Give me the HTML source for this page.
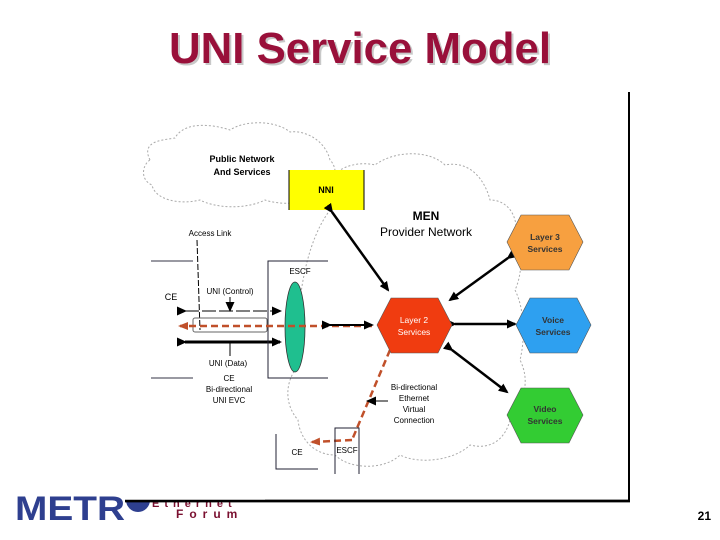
<!DOCTYPE html>
<html><head><meta charset="utf-8"><style>
html,body{margin:0;padding:0;background:#fff;}
svg{display:block;font-family:"Liberation Sans",sans-serif;}
</style></head><body>
<svg width="720" height="540" viewBox="0 0 720 540" xmlns="http://www.w3.org/2000/svg">
<defs>
<marker id="ab" markerWidth="10" markerHeight="9" refX="8" refY="4.5" orient="auto" markerUnits="userSpaceOnUse"><path d="M0,0 L10,4.5 L0,9 z" fill="#000"/></marker>
<marker id="ar" markerWidth="10" markerHeight="8" refX="8" refY="4" orient="auto" markerUnits="userSpaceOnUse"><path d="M0,0 L10,4 L0,8 z" fill="#c0502a"/></marker>
</defs>
<!-- title -->
<text x="362" y="65" text-anchor="middle" font-size="44" font-weight="bold" fill="#c8c8c8" textLength="382" lengthAdjust="spacingAndGlyphs">UNI Service Model</text>
<text x="360" y="63" text-anchor="middle" font-size="44" font-weight="bold" fill="#99103a" textLength="382" lengthAdjust="spacingAndGlyphs">UNI Service Model</text>
<!-- frame -->
<line x1="629" y1="92" x2="629" y2="501" stroke="#000" stroke-width="2"/>
<!-- public cloud -->
<path d="M150,160 C140,140 165,140 175,138 C185,120 215,125 230,130 C245,120 275,120 290,132 C305,130 325,140 330,160 C340,170 335,190 320,195 C305,205 280,205 265,200 C245,210 215,208 200,200 C180,205 155,200 152,185 C140,180 142,165 150,160 Z" fill="none" stroke="#aaa" stroke-dasharray="2,2"/>
<!-- MEN cloud -->
<path d="M330,185 C330,170 355,160 375,165 C395,150 430,150 445,165 C470,160 485,180 490,200 C510,200 520,220 515,240 C525,255 520,280 515,290 C525,310 525,340 520,360 C530,380 525,400 510,420 C505,440 490,450 470,445 C455,460 420,465 400,455 C385,470 350,470 335,455 C315,455 300,440 298,420 C285,405 285,385 295,370 L300,300 C305,260 315,230 330,210 Z" fill="none" stroke="#aaa" stroke-dasharray="2,2"/>
<text x="242" y="162" text-anchor="middle" font-size="9" font-weight="bold">Public Network</text>
<text x="242" y="175" text-anchor="middle" font-size="9" font-weight="bold">And Services</text>
<!-- NNI -->
<rect x="289" y="170" width="75" height="40" fill="#ffff00"/>
<line x1="289" y1="170" x2="289" y2="210" stroke="#000"/>
<line x1="364" y1="170" x2="364" y2="210" stroke="#000"/>
<text x="326" y="193" text-anchor="middle" font-size="9" font-weight="bold">NNI</text>
<text x="426" y="220" text-anchor="middle" font-size="12" font-weight="bold">MEN</text>
<text x="426" y="236" text-anchor="middle" font-size="12">Provider Network</text>
<!-- access link etc -->
<text x="210" y="236" text-anchor="middle" font-size="8">Access Link</text>
<line x1="197" y1="240" x2="200" y2="330" stroke="#000" stroke-dasharray="6,2"/>
<line x1="151" y1="261" x2="193" y2="261" stroke="#334"/>
<line x1="151" y1="378" x2="193" y2="378" stroke="#334"/>
<text x="171" y="300" text-anchor="middle" font-size="9">CE</text>
<text x="230" y="294" text-anchor="middle" font-size="8">UNI (Control)</text>
<line x1="230" y1="297" x2="230" y2="310" stroke="#000" marker-end="url(#ab)"/>
<line x1="185" y1="311" x2="280" y2="311" stroke="#000" stroke-dasharray="14,3" marker-end="url(#ab)" marker-start="url(#ab)"/>
<rect x="193" y="318" width="74" height="14" fill="none" stroke="#666" stroke-width="1" rx="2"/>
<line x1="185" y1="342" x2="280" y2="342" stroke="#000" stroke-width="3" marker-end="url(#ab)" marker-start="url(#ab)"/>
<line x1="230" y1="343" x2="230" y2="356" stroke="#000"/>
<text x="228" y="366" text-anchor="middle" font-size="8">UNI (Data)</text>
<text x="229" y="381" text-anchor="middle" font-size="8">CE</text>
<text x="229" y="392" text-anchor="middle" font-size="8">Bi-directional</text>
<text x="229" y="403" text-anchor="middle" font-size="8">UNI EVC</text>
<!-- ESCF box -->
<path d="M328,261 L268,261 L268,378 L328,378" fill="none" stroke="#223"/>
<text x="300" y="274" text-anchor="middle" font-size="8">ESCF</text>
<ellipse cx="295" cy="327" rx="10" ry="45" fill="#1fbf8f" stroke="#333" stroke-width="0.8"/>
<!-- red dashed EVC -->
<line x1="372" y1="326" x2="180" y2="326" stroke="#c0502a" stroke-width="2.5" stroke-dasharray="7,4" marker-end="url(#ar)"/>
<line x1="330" y1="325" x2="372" y2="325" stroke="#000" stroke-width="2" marker-end="url(#ab)" marker-start="url(#ab)"/>
<line x1="390" y1="350" x2="352" y2="440" stroke="#c0502a" stroke-width="2.5" stroke-dasharray="7,4"/>
<line x1="352" y1="440" x2="312" y2="442" stroke="#c0502a" stroke-width="2.5" stroke-dasharray="7,4" marker-end="url(#ar)"/>
<text x="414" y="390" text-anchor="middle" font-size="8">Bi-directional</text>
<text x="414" y="401" text-anchor="middle" font-size="8">Ethernet</text>
<text x="414" y="412" text-anchor="middle" font-size="8">Virtual</text>
<text x="414" y="423" text-anchor="middle" font-size="8">Connection</text>
<line x1="388" y1="401" x2="368" y2="401" stroke="#000" marker-end="url(#ab)"/>
<!-- bottom CE/ESCF -->
<path d="M276,434 L276,469 L318,469" fill="none" stroke="#223"/>
<text x="297" y="455" text-anchor="middle" font-size="8">CE</text>
<path d="M335,474 L335,428 L359,428 L359,474" fill="none" stroke="#223"/>
<text x="347" y="453" text-anchor="middle" font-size="8">ESCF</text>
<!-- arrows -->
<line x1="332" y1="212" x2="388" y2="290" stroke="#000" stroke-width="2.5" marker-end="url(#ab)" marker-start="url(#ab)"/>
<line x1="508" y1="258" x2="450" y2="300" stroke="#000" stroke-width="2.5" marker-end="url(#ab)" marker-start="url(#ab)"/>
<line x1="455" y1="324" x2="515" y2="324" stroke="#000" stroke-width="2.5" marker-end="url(#ab)" marker-start="url(#ab)"/>
<line x1="452" y1="350" x2="507" y2="392" stroke="#000" stroke-width="2.5" marker-end="url(#ab)" marker-start="url(#ab)"/>
<!-- hexagons -->
<polygon points="507,242 521,215 569,215 583,242 569,270 521,270" fill="#f7a040" stroke="#555" stroke-width="0.6"/>
<text x="545" y="240" text-anchor="middle" font-size="8.5" font-weight="bold" fill="#333">Layer 3</text>
<text x="545" y="252" text-anchor="middle" font-size="8.5" font-weight="bold" fill="#333">Services</text>
<polygon points="377,325 391,298 438,298 452,325 438,353 391,353" fill="#f03c10" stroke="#555" stroke-width="0.6"/>
<text x="414" y="323" text-anchor="middle" font-size="8.5" fill="#fff">Layer 2</text>
<text x="414" y="335" text-anchor="middle" font-size="8.5" fill="#fff">Services</text>
<polygon points="516,325 530,298 577,298 591,325 577,353 530,353" fill="#2ea0f0" stroke="#555" stroke-width="0.6"/>
<text x="553" y="323" text-anchor="middle" font-size="8.5" font-weight="bold" fill="#333">Voice</text>
<text x="553" y="335" text-anchor="middle" font-size="8.5" font-weight="bold" fill="#333">Services</text>
<polygon points="507,415 521,388 569,388 583,415 569,443 521,443" fill="#33cc33" stroke="#555" stroke-width="0.6"/>
<text x="545" y="412" text-anchor="middle" font-size="8.5" font-weight="bold" fill="#333">Video</text>
<text x="545" y="424" text-anchor="middle" font-size="8.5" font-weight="bold" fill="#333">Services</text>
<!-- logo -->
<text x="15" y="520" font-size="34" font-weight="bold" fill="#2e3f8f" textLength="110" lengthAdjust="spacingAndGlyphs">METR</text>
<path d="M126,500 A12,12 0 0 0 150,500 Z" fill="#2e3f8f"/>
<text x="152" y="507" font-size="11" font-weight="bold" fill="#7a1030" letter-spacing="5">Ethernet</text>
<line x1="125" y1="501" x2="630" y2="501" stroke="#000" stroke-width="2.5"/>
<rect x="125" y="490" width="140" height="10" fill="#fff"/>
<line x1="125" y1="501" x2="630" y2="501" stroke="#000" stroke-width="2.5"/>
<text x="176" y="518" font-size="12" font-weight="bold" fill="#7a1030" letter-spacing="6">Forum</text>
<text x="711" y="520" text-anchor="end" font-size="12" font-weight="bold">21</text>
</svg>
</body></html>
